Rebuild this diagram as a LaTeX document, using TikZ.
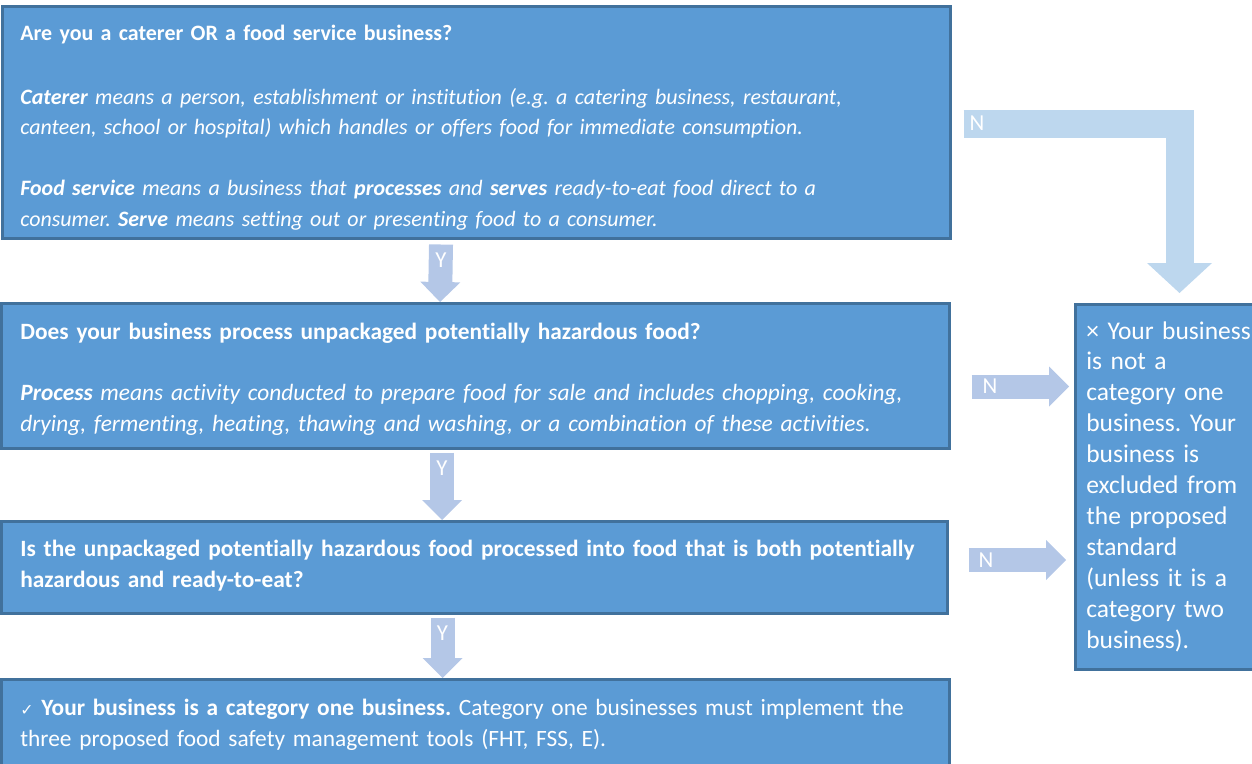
\documentclass[tikz,border=0pt]{standalone}
\usepackage{fontspec}
\setmainfont{Carlito}[Ligatures={TeX,NoCommon}]
\newfontfamily\symfont{DejaVu Sans}
\usetikzlibrary{arrows.meta, positioning, calc}

\definecolor{boxfill}{HTML}{5B9BD5}
\definecolor{boxline}{HTML}{41719C}
\definecolor{flowlight}{HTML}{B4C7E7}
\definecolor{flowpale}{HTML}{BDD7EE}

\newcommand{\gapline}[1][17.4pt]{\\[#1]}
\frenchspacing

\begin{document}
\begin{tikzpicture}[
    x=0.2mm, y=-0.2mm,
    box/.style={draw=boxline, line width=0.5mm, fill=boxfill, inner sep=0, anchor=north west},
    txt/.style={text=white, anchor=base west, inner sep=0, align=left, text width=#1},
    flow/.style={draw=flowlight, line width=4.8mm, -{Triangle[length=4mm, width=8mm, line width=0pt]}},
    flowbig/.style={draw=flowpale, line width=5.6mm, line join=miter, -{Triangle[length=6mm, width=13mm, line width=0pt]}},
    flowlabel/.style={text=white, inner sep=1.2mm, outer sep=0pt, font=\fontsize{13}{14}\selectfont}
]
    \useasboundingbox (0,0) rectangle (1252,763);
    \clip (0,0) rectangle (1252,763);

    % Question boxes
    \node[box, minimum width=189.6mm, minimum height=46.4mm] (q1) at (1,5) {};
    \node[box, minimum width=189.6mm, minimum height=29mm] (q2) at (0,302) {};
    \node[box, minimum width=189.2mm, minimum height=18.4mm] (q3) at (0,520) {};
    \node[box, minimum width=189.6mm, minimum height=22.4mm] (yes) at (0,678) {};
    \node[box, minimum width=45.2mm, minimum height=73mm] (no) at (1074,303) {};

    % Box texts
    \begin{scope}
        \clip (q1.north west) rectangle ($(q1.south east)+(0,-10)$);
        \node[txt=185mm, font=\fontsize{12.5}{17.4}\selectfont] (q1txt) at ($(q1.north west)+(19,35)$) {%
            \textbf{Are you a caterer OR a food service business?}\gapline[19.1pt]
            \itshape\textbf{Caterer} means a person, establishment or institution (e.g. a catering business, restaurant,\\
            canteen, school or hospital) which handles or offers food for immediate consumption.\gapline
            \textbf{Food service} means a business that \textbf{processes} and \textbf{serves} ready-to-eat food direct to a\\
            consumer. \textbf{Serve} means setting out or presenting food to a consumer.};
    \end{scope}
    \node[txt=185mm, font=\fontsize{13.3}{17.6}\selectfont] (q2txt) at ($(q2.north west)+(20,37)$) {%
        \textbf{Does your business process unpackaged potentially hazardous food?}\gapline[17.6pt]
        \itshape\textbf{Process} means activity conducted to prepare food for sale and includes chopping, cooking,\\
        drying, fermenting, heating, thawing and washing, or a combination of these activities.};
    \node[txt=185mm, font=\fontsize{13.3}{17.6}\selectfont] (q3txt) at ($(q3.north west)+(20,36.5)$) {%
        \textbf{Is the unpackaged potentially hazardous food processed into food that is both potentially\\
        hazardous and ready-to-eat?}};
    \node[txt=185mm, font=\fontsize{13.3}{17.8}\selectfont] (yestxt) at ($(yes.north west)+(20,37.5)$) {%
        {\symfont\fontsize{9}{10}\selectfont ✓} \textbf{Your business is a category one business.} Category one businesses must implement the\\
        three proposed food safety management tools (FHT, FSS, E).};
    \node[txt=44mm, font=\fontsize{14.5}{17.6}\selectfont] (notxt) at ($(no.north west)+(12,36)$) {%
        × Your business\\ is not a\\ category one\\ business. Your\\ business is\\ excluded from\\
        the proposed\\ standard\\ (unless it is a\\ category two\\ business).};

    % Yes arrows
    \draw[flow] ([xshift=88mm, yshift=-1mm]q1.south west) -- node[flowlabel, anchor=north, pos=0, yshift=-0.4mm] {Y} ([xshift=88mm]q2.north west);
    \draw[flow] ([xshift=88.4mm, yshift=-0.6mm]q2.south west) -- node[flowlabel, anchor=north, pos=0, yshift=-0.4mm] {Y} ([xshift=88.4mm]q3.north west);
    \draw[flow] ([xshift=88.5mm, yshift=-0.6mm]q3.south west) -- node[flowlabel, anchor=north, pos=0, yshift=-0.4mm] {Y} ([xshift=88.5mm]yes.north west);

    % No arrows
    \draw[flowbig] ($(q1.north east)+(12,118.5)$) -| node[flowlabel, anchor=west, pos=0] {N} ($(no.north west)+(105.5,-10)$);
    \draw[flow] ($(q2.north east)+(21,84.5)$) -- node[flowlabel, anchor=west, pos=0, xshift=1mm] {N} ($(no.north west)+(-5,83.5)$);
    \draw[flow] ($(q3.north east)+(20,40)$) -- node[flowlabel, anchor=west, pos=0, xshift=0.8mm] {N} ($(no.north west)+(-8,257)$);

\end{tikzpicture}
\end{document}
